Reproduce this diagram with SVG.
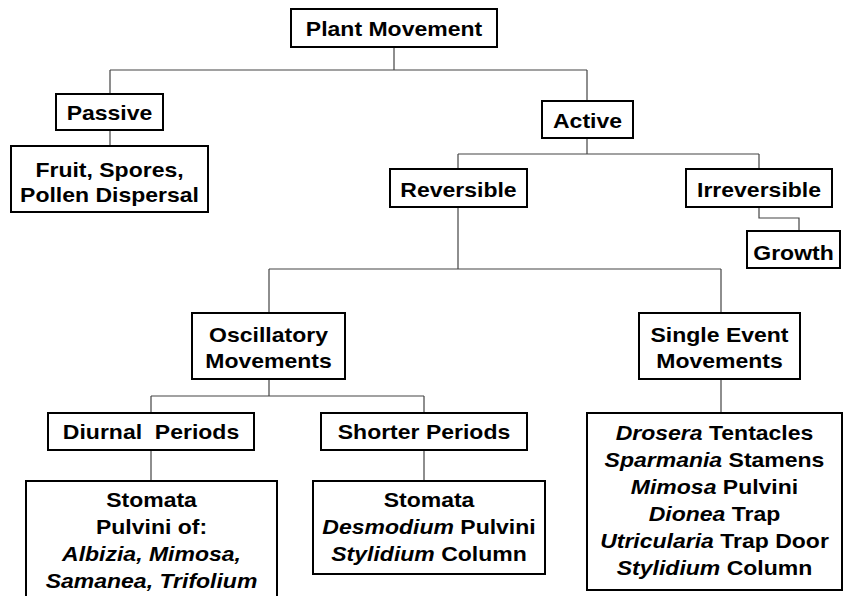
<svg xmlns="http://www.w3.org/2000/svg" width="843" height="596" viewBox="0 0 843 596">
<style>
.box{fill:#fff;stroke:#000;stroke-width:2}
.c{fill:none;stroke:#444;stroke-width:1.2}
.t{font-family:"Liberation Sans",Arial,sans-serif;font-weight:bold;font-size:20px;text-anchor:middle;fill:#000}
.i{font-style:italic}
</style>
<rect width="843" height="596" fill="#fff"/>
<g id="connectors">
<path class="c" d="M394,47V70M110,70H587M110,70V94M587,70V101"/>
<path class="c" d="M110,130V146"/>
<path class="c" d="M587,138V154M458,154H759M458,154V169M759,154V169"/>
<path class="c" d="M759,207V218H799V231"/>
<path class="c" d="M458,207V269M269,269H721M269,269V313M721,269V313"/>
<path class="c" d="M269,379V396M151,396H424M151,396V413M424,396V413"/>
<path class="c" d="M151,450V481M424,450V481M721,379V413"/>
</g>
<g id="plant-movement">
<rect class="box" x="291" y="9" width="206" height="38"/>
<text class="t" transform="translate(394,36) scale(1.15,1)">Plant Movement</text>
</g>
<g id="passive">
<rect class="box" x="56" y="94" width="107" height="36"/>
<text class="t" transform="translate(109.5,120) scale(1.15,1)">Passive</text>
</g>
<g id="fruit">
<rect class="box" x="11" y="146" width="197" height="66"/>
<text class="t" transform="translate(109.5,177) scale(1.15,1)">Fruit, Spores,</text>
<text class="t" transform="translate(109.5,202) scale(1.15,1)">Pollen Dispersal</text>
</g>
<g id="active">
<rect class="box" x="542" y="101" width="91" height="37"/>
<text class="t" transform="translate(587.5,128) scale(1.15,1)">Active</text>
</g>
<g id="reversible">
<rect class="box" x="390" y="169" width="137" height="38"/>
<text class="t" transform="translate(458.5,197) scale(1.15,1)">Reversible</text>
</g>
<g id="irreversible">
<rect class="box" x="686" y="169" width="146" height="38"/>
<text class="t" transform="translate(759,197) scale(1.15,1)">Irreversible</text>
</g>
<g id="growth">
<rect class="box" x="747" y="231" width="93" height="37"/>
<text class="t" transform="translate(793.5,260) scale(1.15,1)">Growth</text>
</g>
<g id="oscillatory">
<rect class="box" x="192" y="313" width="153" height="66"/>
<text class="t" transform="translate(268.5,342) scale(1.15,1)">Oscillatory</text>
<text class="t" transform="translate(268.5,368) scale(1.15,1)">Movements</text>
</g>
<g id="single-event">
<rect class="box" x="639" y="313" width="161" height="66"/>
<text class="t" transform="translate(719.5,342) scale(1.15,1)">Single Event</text>
<text class="t" transform="translate(719.5,368) scale(1.15,1)">Movements</text>
</g>
<g id="diurnal">
<rect class="box" x="48" y="413" width="206" height="37"/>
<text class="t" transform="translate(151,439) scale(1.15,1)" xml:space="preserve">Diurnal  Periods</text>
</g>
<g id="shorter">
<rect class="box" x="321" y="413" width="206" height="37"/>
<text class="t" transform="translate(424,439) scale(1.15,1)">Shorter Periods</text>
</g>
<g id="diurnal-examples">
<rect class="box" x="26" y="481" width="251" height="125"/>
<text class="t" transform="translate(151.5,507) scale(1.15,1)">Stomata</text>
<text class="t" transform="translate(151.5,534) scale(1.15,1)">Pulvini of:</text>
<text class="t i" transform="translate(151.5,561) scale(1.15,1)">Albizia, Mimosa,</text>
<text class="t i" transform="translate(151.5,588) scale(1.15,1)">Samanea, Trifolium</text>
</g>
<g id="shorter-examples">
<rect class="box" x="313" y="481" width="232" height="93"/>
<text class="t" transform="translate(429,507) scale(1.15,1)">Stomata</text>
<text class="t" transform="translate(429,534) scale(1.15,1)"><tspan class="i">Desmodium</tspan> Pulvini</text>
<text class="t" transform="translate(429,561) scale(1.15,1)"><tspan class="i">Stylidium</tspan> Column</text>
</g>
<g id="single-examples">
<rect class="box" x="587" y="413" width="255" height="177"/>
<text class="t" transform="translate(714.5,440) scale(1.15,1)"><tspan class="i">Drosera</tspan> Tentacles</text>
<text class="t" transform="translate(714.5,467) scale(1.15,1)"><tspan class="i">Sparmania</tspan> Stamens</text>
<text class="t" transform="translate(714.5,494) scale(1.15,1)"><tspan class="i">Mimosa</tspan> Pulvini</text>
<text class="t" transform="translate(714.5,521) scale(1.15,1)"><tspan class="i">Dionea</tspan> Trap</text>
<text class="t" transform="translate(714.5,548) scale(1.15,1)"><tspan class="i">Utricularia</tspan> Trap Door</text>
<text class="t" transform="translate(714.5,575) scale(1.15,1)"><tspan class="i">Stylidium</tspan> Column</text>
</g>
</svg>
